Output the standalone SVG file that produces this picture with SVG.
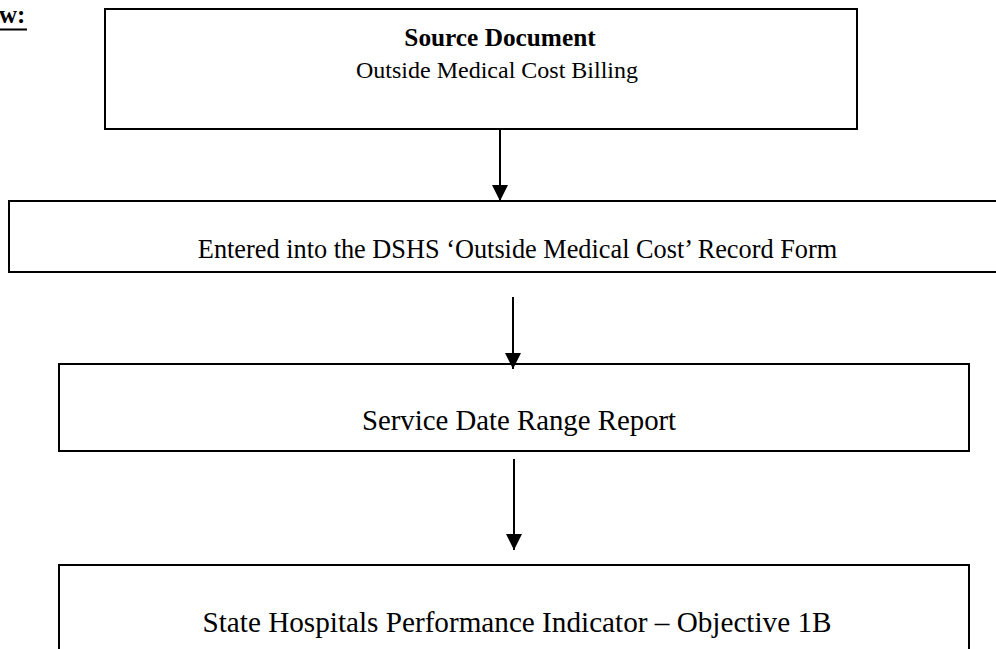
<svg xmlns="http://www.w3.org/2000/svg" width="996" height="649" viewBox="0 0 996 649">
<defs>
<style>
.box{fill:#fff;stroke:#000;stroke-width:2}
.t{font-family:"Liberation Serif","Times New Roman",serif;fill:#000;text-anchor:middle}
.b{font-weight:bold}
.conn{stroke:#000;stroke-width:2;fill:none}
</style>
<marker id="ah" viewBox="0 0 16 16" refX="16" refY="8" markerWidth="16" markerHeight="16" markerUnits="userSpaceOnUse" orient="auto">
<path d="M0,0 L16,8 L0,16 Z" fill="#000"/>
</marker>
</defs>
<rect width="996" height="649" fill="#fff"/>
<g id="heading">
<text x="-1" y="23" class="t b" style="text-anchor:start;font-size:25px">w:</text>
<line x1="0" y1="29.5" x2="27" y2="29.5" stroke="#000" stroke-width="2"/>
</g>
<g id="source-document">
<rect class="box" x="105" y="9" width="752" height="120"/>
<text x="500" y="46" class="t b" style="font-size:25.3px">Source Document</text>
<text x="497" y="78" class="t" style="font-size:24px">Outside Medical Cost Billing</text>
</g>
<g id="record-form">
<rect class="box" x="9" y="201" width="1000" height="71"/>
<text x="517.5" y="258" class="t" style="font-size:26.3px">Entered into the DSHS ‘Outside Medical Cost’ Record Form</text>
</g>
<g id="date-range-report">
<rect class="box" x="59" y="364" width="910" height="87"/>
<text x="519" y="430" class="t" style="font-size:28.8px">Service Date Range Report</text>
</g>
<g id="performance-indicator">
<rect class="box" x="59" y="565" width="910" height="100"/>
<text x="517" y="632" class="t" style="font-size:29.2px">State Hospitals Performance Indicator – Objective 1B</text>
</g>
<g id="connectors">
<line class="conn" x1="500" y1="130" x2="500" y2="201" marker-end="url(#ah)"/>
<line class="conn" x1="513" y1="297" x2="513" y2="369" marker-end="url(#ah)"/>
<line class="conn" x1="514" y1="459" x2="514" y2="550" marker-end="url(#ah)"/>
</g>
</svg>
